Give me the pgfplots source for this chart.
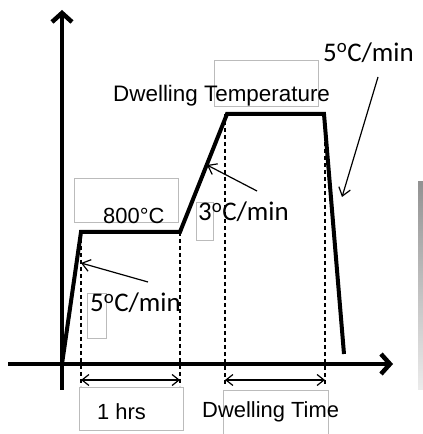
\documentclass[border=0pt]{standalone}
\usepackage{pgfplots}
\pgfplotsset{compat=1.18}
\usepackage{fontspec}
\setmainfont{Liberation Sans}
\newfontfamily\calfont{Carlito}
\usetikzlibrary{arrows.meta}

\definecolor{boxgray}{HTML}{BBBBBB}

\begin{document}
\begin{tikzpicture}
\useasboundingbox (0,0) rectangle (423bp,434bp);
\begin{axis}[
    scale only axis,
    width=423bp, height=434bp,
    xmin=0, xmax=423, ymin=0, ymax=434,
    hide axis, clip=false,
]
% axes
\addplot[line width=4.5bp, -{Straight Barb[length=9bp,width=20bp]}] coordinates {(62,44) (62,424)};
\addplot[line width=4.5bp, -{Straight Barb[length=9bp,width=20bp]}] coordinates {(8,70) (393,70)};

% firing profile
\addplot[line width=4bp, line join=miter] coordinates {
    (62,70) (81,202) (180,202) (227,320) (324,320) (344,80)
};

% guide lines
\addplot[line width=1.3bp, dash pattern=on 4bp off 3bp] coordinates {(81,202) (81,48)};
\addplot[line width=1.3bp, dash pattern=on 4bp off 3bp] coordinates {(180,202) (180,48)};
\addplot[line width=1.3bp, dash pattern=on 4bp off 3bp] coordinates {(225,320) (225,48)};
\addplot[line width=1.3bp, dash pattern=on 4bp off 3bp] coordinates {(325,320) (325,48)};

% spans
\addplot[line width=1.2bp, {Straight Barb[length=7bp,width=11bp]}-{Straight Barb[length=7bp,width=11bp]}] coordinates {(81,54) (180,54)};
\addplot[line width=1.2bp, {Straight Barb[length=7bp,width=11bp]}-{Straight Barb[length=7bp,width=11bp]}] coordinates {(225,54) (325,54)};

% rate pointers
\addplot[line width=1.2bp, -{Straight Barb[length=8bp,width=12bp]}] coordinates {(378,357) (342,237)};
\addplot[line width=1.2bp, -{Straight Barb[length=8bp,width=12bp]}] coordinates {(257,243) (207,269)};
\addplot[line width=1.2bp, -{Straight Barb[length=8bp,width=12bp]}] coordinates {(148,152) (81,171)};

% label frames
\draw[boxgray, line width=0.8bp] (axis cs:74,256) rectangle (axis cs:178,212);
\draw[boxgray, line width=0.8bp] (axis cs:214,374) rectangle (axis cs:318,328);
\draw[boxgray, line width=0.8bp] (axis cs:196,232) rectangle (axis cs:213,194);
\draw[boxgray, line width=0.8bp] (axis cs:87,141) rectangle (axis cs:106,96);
\draw[boxgray, line width=0.8bp] (axis cs:79,47) rectangle (axis cs:183,4);
\draw[boxgray, line width=0.8bp] (axis cs:223,44) -- (axis cs:223,0);
\draw[boxgray, line width=0.8bp] (axis cs:223,44) -- (axis cs:328,44) -- (axis cs:328,0);

% labels
\node[anchor=base west, inner sep=0, font=\fontsize{22.5}{27}\selectfont] at (axis cs:113,332) {Dwelling Temperature};
\node[anchor=base west, inner sep=0, font=\fontsize{22}{26}\selectfont] at (axis cs:103,210) {800°C};
\node[anchor=base west, inner sep=0, font=\fontsize{22}{26}\selectfont] at (axis cs:97,15) {1 hrs};
\node[anchor=base west, inner sep=0, font=\fontsize{22}{26}\selectfont] at (axis cs:202,17) {Dwelling Time};
\node[anchor=base west, inner sep=0, font=\calfont\fontsize{27}{32}\selectfont] at (axis cs:323,372) {5\textsuperscript{o}C/min};
\node[anchor=base west, inner sep=0, font=\calfont\fontsize{27}{32}\selectfont] at (axis cs:198,213) {3\textsuperscript{o}C/min};
\node[anchor=base west, inner sep=0, font=\calfont\fontsize{27}{32}\selectfont] at (axis cs:90,122) {5\textsuperscript{o}C/min};

% scan edge at right
\shade[top color=gray!85, bottom color=gray!15] (axis cs:418,252) rectangle (axis cs:423,44);
\end{axis}
\end{tikzpicture}
\end{document}
